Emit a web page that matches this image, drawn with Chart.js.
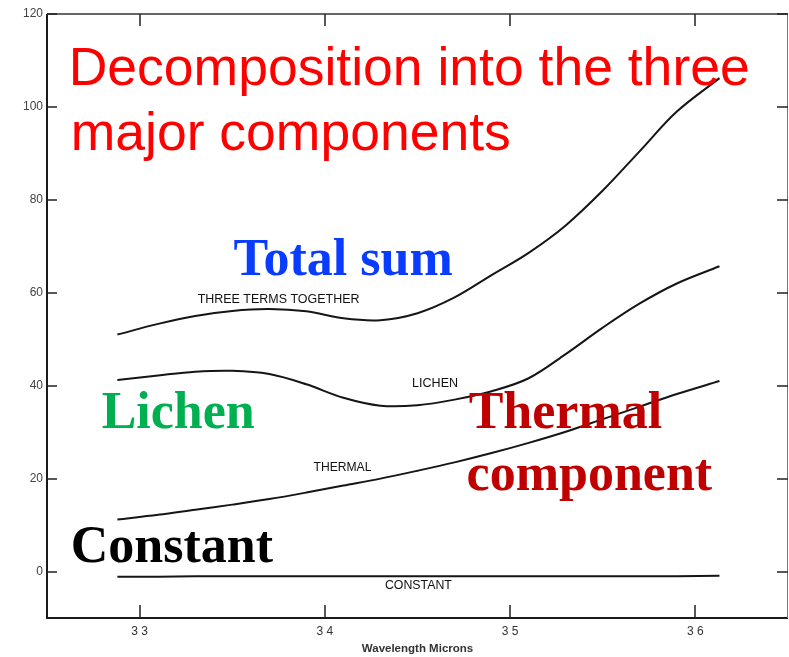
<!DOCTYPE html>
<html>
<head>
<meta charset="utf-8">
<script src="https://cdn.jsdelivr.net/npm/chart.js@4.4.1/dist/chart.umd.min.js"></script>
<style>
  html, body { margin: 0; padding: 0; background: #fff; }
  canvas { display: block; }
</style>
</head>
<body>
<canvas id="chart" width="789" height="657"></canvas>
<script>
// Wavelength (microns) where the curves were read
const xValues = [3.288, 3.31, 3.33, 3.35, 3.37, 3.39, 3.41, 3.43, 3.45, 3.47, 3.49, 3.51, 3.53, 3.55, 3.57, 3.59, 3.613];

// Curves
const totalSum = [51.0, 53.3, 55.0, 56.1, 56.5, 56.0, 54.5, 54.1, 55.6, 59.0, 63.8, 68.6, 74.5, 82.0, 90.5, 99.0, 106.2];
const lichen   = [41.2, 42.2, 43.0, 43.2, 42.5, 40.3, 37.4, 35.7, 35.8, 37.0, 38.8, 41.6, 46.8, 52.5, 57.7, 62.0, 65.7];
const thermal  = [11.2, 12.2, 13.3, 14.4, 15.6, 17.0, 18.5, 20.0, 21.7, 23.5, 25.5, 27.7, 30.1, 32.8, 35.5, 38.2, 41.0];
const constant = [-1.1, -1.1, -1.0, -1.0, -1.0, -1.0, -1.0, -1.0, -1.0, -1.0, -1.0, -1.0, -1.0, -1.0, -1.0, -1.0, -0.9];

// Axis ticks
const xTickValues = [3.3, 3.4, 3.5, 3.6];
const yTickValues = [0, 20, 40, 60, 80, 100, 120];

// Small labels printed next to the curves (center position in data units)
const curveLabels = [
  { text: "THREE TERMS TOGETHER", x: 3.375, y: 58.5, width: 162 },
  { text: "LICHEN", x: 3.4595, y: 40.4, width: 46 },
  { text: "THERMAL", x: 3.4095, y: 22.4, width: 58 },
  { text: "CONSTANT", x: 3.4505, y: -3.0, width: 67 }
];

// Big overlay captions (left edge / baseline in data units)
const captions = [
  { text: "Decomposition into the three", x: 3.2617, y: 104.7, color: "#ff0000", font: "normal 53.5px 'Liberation Sans'" },
  { text: "major components", x: 3.2628, y: 90.8, color: "#ff0000", font: "normal 53.5px 'Liberation Sans'" },
  { text: "Total sum", x: 3.3507, y: 63.9, color: "#0a3cff", font: "bold 52px 'Liberation Serif'" },
  { text: "Lichen", x: 3.2795, y: 31.0, color: "#00b050", font: "bold 52px 'Liberation Serif'" },
  { text: "Thermal", x: 3.4776, y: 31.0, color: "#c00000", font: "bold 52px 'Liberation Serif'" },
  { text: "component", x: 3.4765, y: 17.6, color: "#c00000", font: "bold 52px 'Liberation Serif'" },
  { text: "Constant", x: 3.2628, y: 2.1, color: "#000000", font: "bold 52px 'Liberation Serif'" }
];

function toPoints(values) {
  return xValues.map((x, i) => ({ x: x, y: values[i] }));
}

function curve(values) {
  return {
    data: toPoints(values),
    borderColor: "#151515",
    borderWidth: 2,
    pointRadius: 0,
    tension: 0.35,
    fill: false
  };
}

// fit a font size so the text gets the wanted width
function fitFont(ctx, text, width, weight, family) {
  ctx.font = `${weight} 100px ${family}`;
  const w = ctx.measureText(text).width;
  return `${weight} ${(100 * width / w).toFixed(2)}px ${family}`;
}

const decorPlugin = {
  id: "decor",
  beforeDraw(chart) {
    const ctx = chart.ctx;
    ctx.save();
    ctx.fillStyle = "#fff";
    ctx.fillRect(0, 0, chart.width, chart.height);
    ctx.restore();
  },
  afterDraw(chart) {
    const { ctx, chartArea: a, scales: { x, y } } = chart;
    ctx.save();

    // frame
    ctx.strokeStyle = "#1a1a1a";
    ctx.lineWidth = 2;
    ctx.beginPath();
    ctx.moveTo(a.left, a.top);
    ctx.lineTo(a.left, a.bottom);
    ctx.lineTo(a.right, a.bottom);
    ctx.stroke();
    ctx.lineWidth = 1.5;
    ctx.strokeStyle = "#333";
    ctx.beginPath();
    ctx.moveTo(a.left, a.top);
    ctx.lineTo(a.right, a.top);
    ctx.stroke();
    ctx.lineWidth = 1;
    ctx.strokeStyle = "#777";
    ctx.beginPath();
    ctx.moveTo(a.right - 0.5, a.top);
    ctx.lineTo(a.right - 0.5, a.bottom);
    ctx.stroke();

    // inward ticks
    ctx.strokeStyle = "#222";
    ctx.lineWidth = 1.5;
    ctx.beginPath();
    xTickValues.forEach(v => {
      const px = Math.round(x.getPixelForValue(v));
      ctx.moveTo(px, a.bottom);
      ctx.lineTo(px, a.bottom - 13);
      ctx.moveTo(px, a.top);
      ctx.lineTo(px, a.top + 12);
    });
    yTickValues.forEach(v => {
      const py = Math.round(y.getPixelForValue(v));
      ctx.moveTo(a.left, py);
      ctx.lineTo(a.left + 10, py);
      ctx.moveTo(a.right, py);
      ctx.lineTo(a.right - 11, py);
    });
    ctx.stroke();

    // curve labels
    ctx.fillStyle = "#111";
    ctx.textAlign = "center";
    ctx.textBaseline = "middle";
    curveLabels.forEach(l => {
      ctx.font = fitFont(ctx, l.text, l.width, "normal", "'Liberation Sans'");
      ctx.fillText(l.text, x.getPixelForValue(l.x), y.getPixelForValue(l.y));
    });

    // captions
    ctx.textAlign = "left";
    ctx.textBaseline = "alphabetic";
    captions.forEach(c => {
      ctx.font = c.font;
      ctx.fillStyle = c.color;
      ctx.fillText(c.text, x.getPixelForValue(c.x), y.getPixelForValue(c.y));
    });

    ctx.restore();
  }
};

new Chart(document.getElementById("chart"), {
  type: "line",
  data: {
    datasets: [curve(totalSum), curve(lichen), curve(thermal), curve(constant)]
  },
  options: {
    responsive: false,
    animation: false,
    devicePixelRatio: 1,
    layout: { padding: { top: 14, right: 1, left: 0, bottom: 0 } },
    plugins: {
      legend: { display: false },
      tooltip: { enabled: false }
    },
    scales: {
      x: {
        type: "linear",
        min: 3.25,
        max: 3.65,
        afterBuildTicks: s => { s.ticks = xTickValues.map(v => ({ value: v })); },
        afterFit: s => { s.height = 39; },
        grid: { display: false, drawTicks: false },
        border: { display: false },
        ticks: {
          padding: 6,
          color: "#333",
          font: { family: "'Liberation Sans'", size: 12 },
          maxRotation: 0,
          callback: v => v.toFixed(1).replace(".", " ")
        },
        title: {
          display: true,
          text: "Wavelength Microns",
          color: "#333",
          font: { family: "'Liberation Sans'", size: 11.5, weight: "bold" },
          padding: { top: 0, bottom: 1 }
        }
      },
      y: {
        min: -10,
        max: 120,
        afterBuildTicks: s => { s.ticks = yTickValues.map(v => ({ value: v })); },
        afterFit: s => { s.width = 47; },
        grid: { display: false, drawTicks: false },
        border: { display: false },
        ticks: {
          padding: 4,
          color: "#444",
          font: { family: "'Liberation Sans'", size: 12 }
        }
      }
    }
  },
  plugins: [decorPlugin]
});
</script>
</body>
</html>
